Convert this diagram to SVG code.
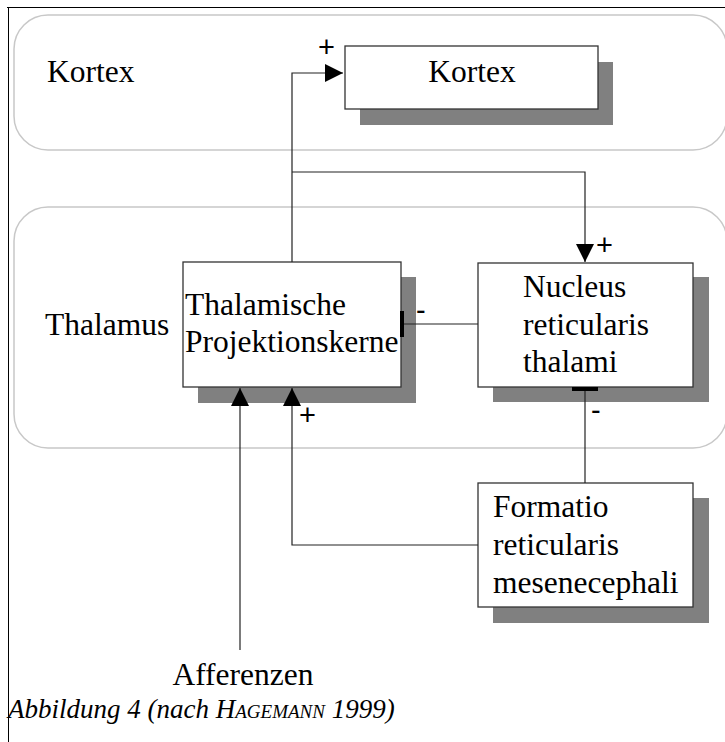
<svg xmlns="http://www.w3.org/2000/svg" width="725" height="742" viewBox="0 0 725 742">
<style>
.band{fill:#fff;stroke:#c8c8c8;stroke-width:1.5}
.shadow{fill:#808080}
.box{fill:#fff;stroke:#333;stroke-width:1.3}
.t{font-family:"Liberation Serif","Times New Roman",serif;font-size:31.5px;fill:#000}
.s{font-family:"Liberation Sans",Arial,sans-serif;font-size:29px;fill:#000}
.c{fill:none;stroke:#222;stroke-width:1.2}
.cap{font-family:"Liberation Serif","Times New Roman",serif;font-size:27px;font-style:italic;fill:#000}
</style>
<defs>
<marker id="arr" markerWidth="18" markerHeight="18" refX="18" refY="9" orient="auto" markerUnits="userSpaceOnUse">
<path d="M0,0 L18,9 L0,18 Z" fill="#000"/>
</marker>
</defs>
<rect width="725" height="742" fill="#fff"/>
<g id="frame">
<line x1="7" y1="7.5" x2="725" y2="7.5" stroke="#000" stroke-width="1"/>
<line x1="8.5" y1="7" x2="8.5" y2="742" stroke="#000" stroke-width="1"/>
</g>
<g id="band-kortex">
<rect class="band" x="14" y="15" width="713" height="135" rx="34" ry="34"/>
<text class="t" x="47" y="82">Kortex</text>
</g>
<g id="band-thalamus">
<rect class="band" x="14" y="207" width="713" height="241" rx="34" ry="34"/>
<text class="t" x="45" y="335">Thalamus</text>
</g>
<g id="node-kortex">
<rect class="shadow" x="360" y="62" width="253" height="63"/>
<rect class="box" x="345" y="46" width="253" height="63"/>
<text class="t" x="472" y="82" text-anchor="middle">Kortex</text>
</g>
<g id="node-thalamische">
<rect class="shadow" x="198" y="277" width="218" height="126"/>
<rect class="box" x="183" y="262" width="218" height="125"/>
<text class="t" x="185" y="315">Thalamische</text>
<text class="t" x="185" y="352">Projektionskerne</text>
</g>
<g id="node-nucleus">
<rect class="shadow" x="493" y="277" width="216" height="125"/>
<rect class="box" x="478" y="263" width="215" height="124"/>
<text class="t" x="523" y="297">Nucleus</text>
<text class="t" x="523" y="335">reticularis</text>
<text class="t" x="523" y="372">thalami</text>
</g>
<g id="node-formatio">
<rect class="shadow" x="493" y="498" width="216" height="125"/>
<rect class="box" x="478" y="483" width="215" height="124"/>
<text class="t" x="493" y="517">Formatio</text>
<text class="t" x="493" y="555">reticularis</text>
<text class="t" x="493" y="593">mesenecephali</text>
</g>
<g id="connectors">
<polyline class="c" points="292,262 292,73 343,73" marker-end="url(#arr)"/>
<polyline class="c" points="292,172 585,172 585,262" marker-end="url(#arr)"/>
<line class="c" x1="478" y1="324" x2="403" y2="324"/>
<rect x="400" y="311" width="4" height="26" fill="#000"/>
<line class="c" x1="585" y1="483" x2="585" y2="390"/>
<rect x="572" y="387" width="26" height="4" fill="#000"/>
<polyline class="c" points="478,545 292,545 292,388" marker-end="url(#arr)"/>
<line class="c" x1="240" y1="650" x2="240" y2="388" marker-end="url(#arr)"/>
<text class="s" x="318" y="57">+</text>
<text class="s" x="596" y="255">+</text>
<text class="s" x="299" y="425">+</text>
<text class="s" x="416" y="320">-</text>
<text class="s" x="591" y="420">-</text>
</g>
<g id="label-afferenzen">
<text class="t" x="243" y="685" text-anchor="middle">Afferenzen</text>
</g>
<g id="caption">
<text class="cap" x="8" y="718">Abbildung 4 (nach H<tspan font-size="19">AGEMANN</tspan> 1999)</text>
</g>
</svg>
